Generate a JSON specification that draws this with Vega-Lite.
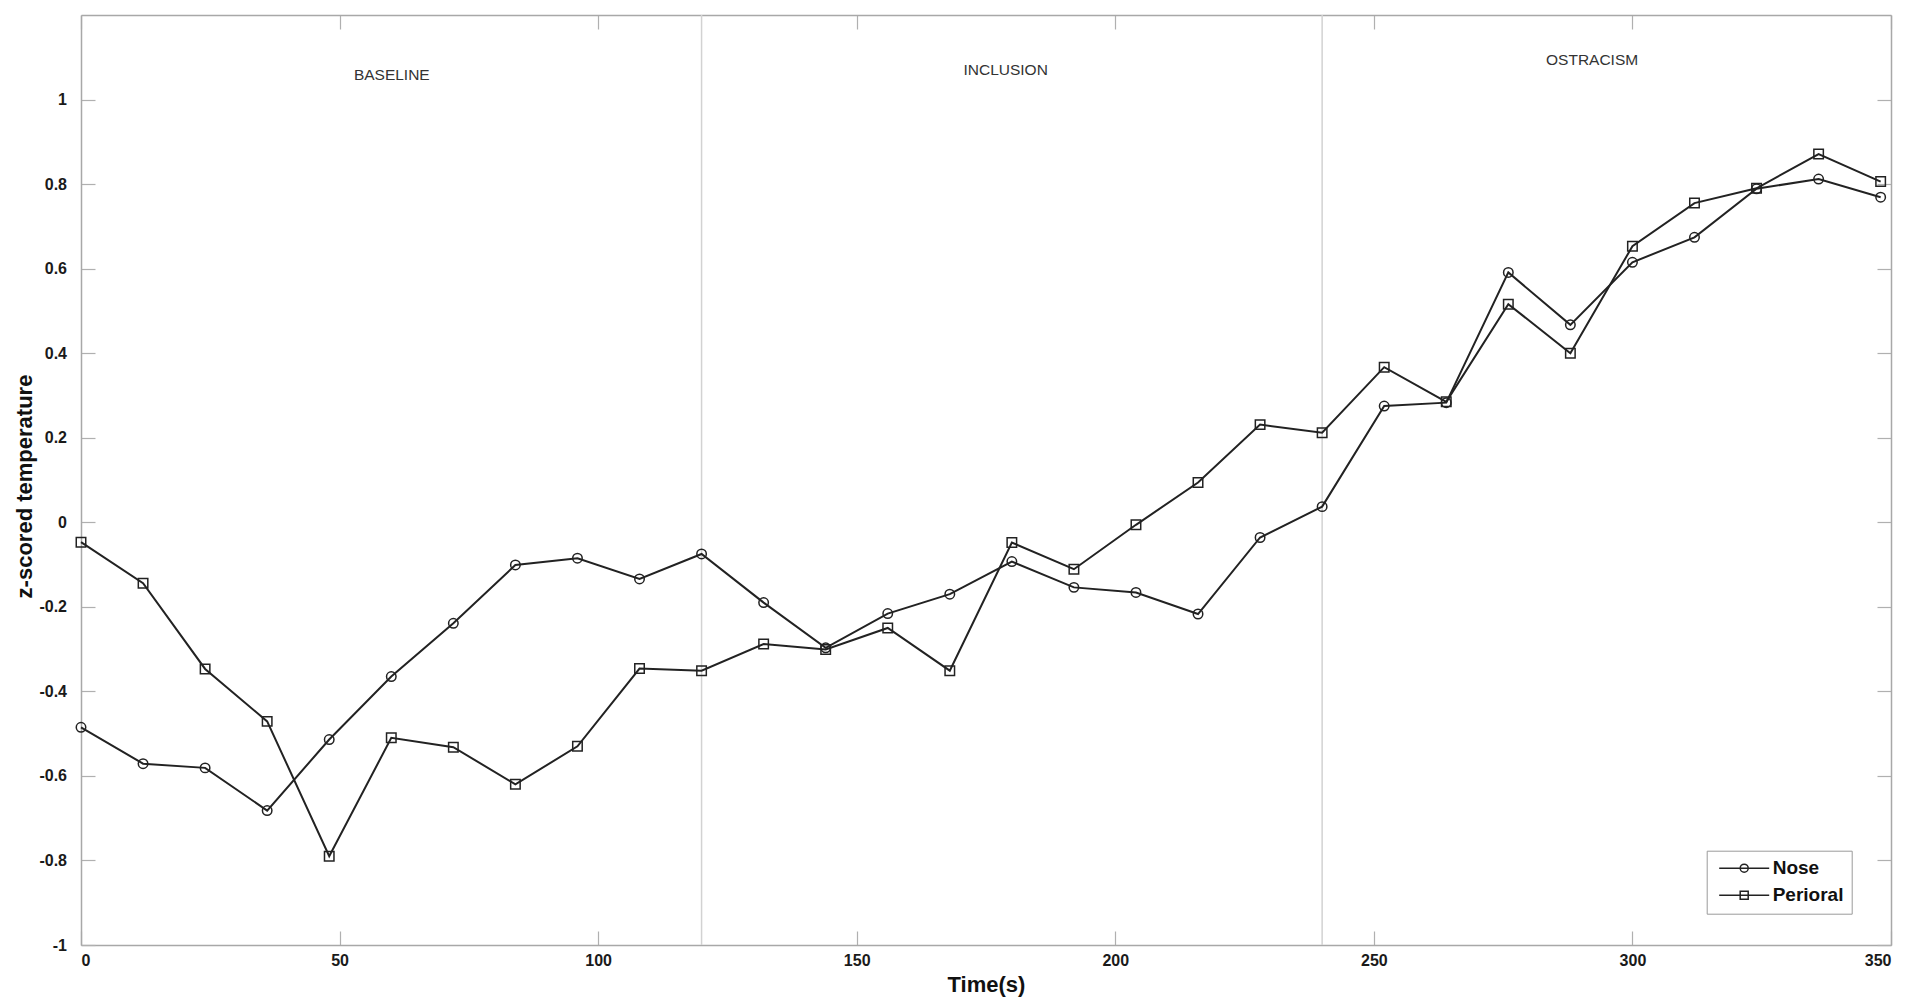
{
  "$schema": "https://vega.github.io/schema/vega-lite/v6.json",
  "width": 1810,
  "height": 930,
  "autosize": "none",
  "padding": {"left": 81, "top": 15, "right": 40, "bottom": 58},
  "background": "white",
  "config": {
    "view": {"stroke": null},
    "font": "Liberation Sans",
    "axis": {
      "domainColor": "#a8a8a8",
      "domainWidth": 1.5,
      "tickColor": "#b0b0b0",
      "tickWidth": 1.2,
      "tickSize": -14,
      "grid": false,
      "labelFont": "Liberation Sans",
      "labelFontWeight": "bold",
      "labelFontSize": 16,
      "labelColor": "#1a1a1a",
      "titleFont": "Liberation Sans",
      "titleFontWeight": "bold",
      "titleFontSize": 22,
      "titleColor": "#111"
    }
  },
  "datasets": {
    "temps": [
      {"t": 0, "series": "Nose", "z": -0.485},
      {"t": 12, "series": "Nose", "z": -0.571},
      {"t": 24, "series": "Nose", "z": -0.581},
      {"t": 36, "series": "Nose", "z": -0.682},
      {"t": 48, "series": "Nose", "z": -0.514},
      {"t": 60, "series": "Nose", "z": -0.365},
      {"t": 72, "series": "Nose", "z": -0.239},
      {"t": 84, "series": "Nose", "z": -0.101},
      {"t": 96, "series": "Nose", "z": -0.085},
      {"t": 108, "series": "Nose", "z": -0.134},
      {"t": 120, "series": "Nose", "z": -0.075},
      {"t": 132, "series": "Nose", "z": -0.19},
      {"t": 144, "series": "Nose", "z": -0.297},
      {"t": 156, "series": "Nose", "z": -0.216},
      {"t": 168, "series": "Nose", "z": -0.17},
      {"t": 180, "series": "Nose", "z": -0.093},
      {"t": 192, "series": "Nose", "z": -0.154},
      {"t": 204, "series": "Nose", "z": -0.166},
      {"t": 216, "series": "Nose", "z": -0.217},
      {"t": 228, "series": "Nose", "z": -0.036},
      {"t": 240, "series": "Nose", "z": 0.037},
      {"t": 252, "series": "Nose", "z": 0.275},
      {"t": 264, "series": "Nose", "z": 0.283},
      {"t": 276, "series": "Nose", "z": 0.591},
      {"t": 288, "series": "Nose", "z": 0.467},
      {"t": 300, "series": "Nose", "z": 0.615},
      {"t": 312, "series": "Nose", "z": 0.674},
      {"t": 324, "series": "Nose", "z": 0.789},
      {"t": 336, "series": "Nose", "z": 0.812},
      {"t": 348, "series": "Nose", "z": 0.769},
      {"t": 0, "series": "Perioral", "z": -0.047},
      {"t": 12, "series": "Perioral", "z": -0.144},
      {"t": 24, "series": "Perioral", "z": -0.347},
      {"t": 36, "series": "Perioral", "z": -0.471},
      {"t": 48, "series": "Perioral", "z": -0.79},
      {"t": 60, "series": "Perioral", "z": -0.51},
      {"t": 72, "series": "Perioral", "z": -0.532},
      {"t": 84, "series": "Perioral", "z": -0.62},
      {"t": 96, "series": "Perioral", "z": -0.53},
      {"t": 108, "series": "Perioral", "z": -0.346},
      {"t": 120, "series": "Perioral", "z": -0.351},
      {"t": 132, "series": "Perioral", "z": -0.288},
      {"t": 144, "series": "Perioral", "z": -0.301},
      {"t": 156, "series": "Perioral", "z": -0.25},
      {"t": 168, "series": "Perioral", "z": -0.351},
      {"t": 180, "series": "Perioral", "z": -0.048},
      {"t": 192, "series": "Perioral", "z": -0.111},
      {"t": 204, "series": "Perioral", "z": -0.006},
      {"t": 216, "series": "Perioral", "z": 0.094},
      {"t": 228, "series": "Perioral", "z": 0.231},
      {"t": 240, "series": "Perioral", "z": 0.212},
      {"t": 252, "series": "Perioral", "z": 0.367},
      {"t": 264, "series": "Perioral", "z": 0.285},
      {"t": 276, "series": "Perioral", "z": 0.516},
      {"t": 288, "series": "Perioral", "z": 0.4},
      {"t": 300, "series": "Perioral", "z": 0.653},
      {"t": 312, "series": "Perioral", "z": 0.755},
      {"t": 324, "series": "Perioral", "z": 0.79},
      {"t": 336, "series": "Perioral", "z": 0.871},
      {"t": 348, "series": "Perioral", "z": 0.806}
    ],
    "phases": [{"t": 120}, {"t": 240}],
    "labels": [
      {"t": 60.1, "z": 1.058, "label": "BASELINE"},
      {"t": 178.8, "z": 1.07, "label": "INCLUSION"},
      {"t": 292.2, "z": 1.093, "label": "OSTRACISM"}
    ]
  },
  "resolve": {
    "axis": {"x": "independent", "y": "independent"},
    "scale": {"shape": "independent"}
  },
  "layer": [
    {
      "data": {"name": "phases"},
      "mark": {"type": "rule", "color": "#d2d2d2", "strokeWidth": 1.5},
      "encoding": {
        "x": {"field": "t", "type": "quantitative", "scale": {"domain": [0, 350], "nice": false, "zero": false}, "axis": null}
      }
    },
    {
      "data": {"name": "temps"},
      "mark": {"type": "line", "color": "#222", "strokeWidth": 2},
      "encoding": {
        "x": {
          "field": "t", "type": "quantitative",
          "scale": {"domain": [0, 350], "nice": false, "zero": false},
          "axis": {
            "orient": "bottom",
            "values": [0, 50, 100, 150, 200, 250, 300, 350],
            "labelPadding": 21,
            "title": "Time(s)",
            "titleY": 39,
            "titleBaseline": "middle"
          }
        },
        "y": {
          "field": "z", "type": "quantitative",
          "scale": {"domain": [-1, 1.2], "nice": false, "zero": false},
          "axis": {
            "orient": "left",
            "values": [-1, -0.8, -0.6, -0.4, -0.2, 0, 0.2, 0.4, 0.6, 0.8, 1],
            "labelExpr": "toString(round(datum.value*10)/10)",
            "labelPadding": 28.5,
            "title": "z-scored temperature",
            "titleX": -57,
            "titleY": 471,
            "titleAngle": -90,
            "titleAlign": "center",
            "titleBaseline": "middle"
          }
        },
        "detail": {"field": "series"}
      }
    },
    {
      "data": {"name": "temps"},
      "mark": {"type": "point", "filled": false, "color": "#222", "strokeWidth": 1.5, "size": 90, "opacity": 1},
      "encoding": {
        "x": {"field": "t", "type": "quantitative", "axis": null},
        "y": {"field": "z", "type": "quantitative", "axis": null},
        "shape": {"field": "series", "type": "nominal", "scale": {"domain": ["Nose", "Perioral"], "range": ["circle", "square"]}, "legend": null}
      }
    },
    {
      "data": {"name": "labels"},
      "mark": {"type": "text", "font": "Liberation Sans", "fontSize": 15.5, "color": "#333", "align": "center", "baseline": "middle"},
      "encoding": {
        "x": {"field": "t", "type": "quantitative", "axis": {"orient": "top", "values": [0, 50, 100, 150, 200, 250, 300, 350], "labels": false, "title": null}},
        "y": {"field": "z", "type": "quantitative", "axis": {"orient": "right", "values": [-1, -0.8, -0.6, -0.4, -0.2, 0, 0.2, 0.4, 0.6, 0.8, 1], "labels": false, "title": null}},
        "text": {"field": "label"}
      }
    },
    {
      "data": {"name": "temps"},
      "mark": {"type": "point", "filled": false, "color": "#222", "strokeWidth": 1.5, "size": 100, "opacity": 0},
      "encoding": {
        "x": {"field": "t", "type": "quantitative", "axis": null},
        "y": {"field": "z", "type": "quantitative", "axis": null},
        "shape": {
          "field": "series", "type": "nominal",
          "scale": {"domain": ["Nose", "Perioral"], "range": ["M-5,0H5M0.8,0A0.8,0.8,0,1,1,-0.8,0A0.8,0.8,0,1,1,0.8,0", "M-5,0H5M-0.8,-0.8H0.8V0.8H-0.8Z"]},
          "legend": {
            "orient": "none",
            "legendX": 1625.7,
            "legendY": 835.7,
            "title": null,
            "strokeColor": "#9a9a9a",
            "fillColor": "white",
            "padding": 8,
            "rowPadding": 7,
            "symbolSize": 100,
            "symbolOffset": 20,
            "symbolOpacity": 1,
            "symbolStrokeColor": "#222",
            "symbolStrokeWidth": 1.5,
            "symbolFillColor": "transparent",
            "labelFont": "Liberation Sans",
            "labelFontWeight": "bold",
            "labelFontSize": 19,
            "labelColor": "#111",
            "labelOffset": 19
          }
        }
      }
    }
  ]
}
